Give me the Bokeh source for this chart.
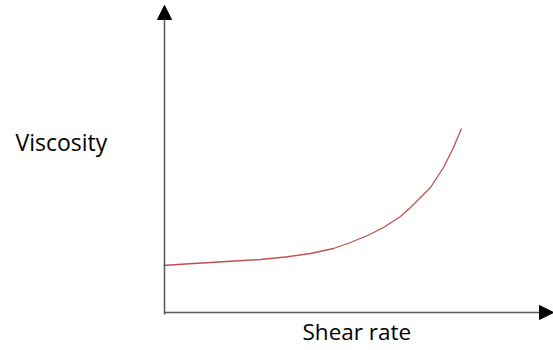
from bokeh.plotting import figure
from bokeh.models import Range1d, Arrow, NormalHead, Label
from bokeh.embed import file_html
from bokeh.resources import INLINE

# Schematic curve: viscosity rising with shear rate (arbitrary units)
shear_rate = [-1, 21, 46, 71, 96, 121, 146, 169, 186, 203, 219, 236, 246, 256, 266, 279, 289, 297]
viscosity = [47, 48.5, 50, 51.5, 53, 55.5, 59, 64, 70, 77, 85, 96, 105, 115, 125, 145, 165, 184]

x_label = "Shear rate"
y_label = "Viscosity"

W, H = 553, 350
p = figure(width=W, height=H, output_backend="svg", toolbar_location=None,
           x_range=Range1d(-164, 389), y_range=Range1d(-38, 312),
           min_border=0, outline_line_color=None,
           x_axis_location=None, y_axis_location=None)
p.grid.visible = False
p.background_fill_color = "white"
p.border_fill_color = "white"

axis_col = "#595959"
# y axis arrow
p.add_layout(Arrow(x_start=0, y_start=-2, x_end=0, y_end=307,
                   line_color=axis_col, line_width=1.5,
                   end=NormalHead(size=14, fill_color="black", line_color="black", line_width=1)))
# x axis arrow
p.add_layout(Arrow(x_start=0, y_start=0, x_end=389, y_end=0,
                   line_color=axis_col, line_width=1.5,
                   end=NormalHead(size=14, fill_color="black", line_color="black", line_width=1)))

p.line(shear_rate, viscosity, line_color="#C0504D", line_width=1.3)

p.add_layout(Label(x=-149, y=171, text=y_label, text_font="Open Sans",
                   text_font_size="23px", text_color="black", text_baseline="alphabetic"))
p.add_layout(Label(x=138, y=-19, text=x_label, text_font="Open Sans",
                   text_font_size="22.5px", text_color="black", text_baseline="alphabetic"))

open("out.html", "w").write(file_html(p, INLINE))
